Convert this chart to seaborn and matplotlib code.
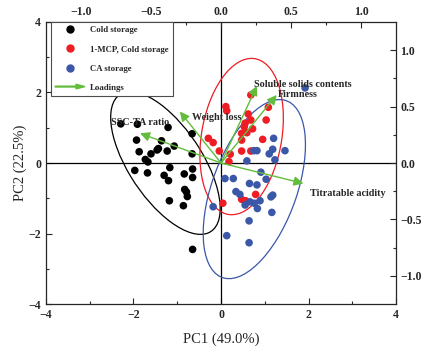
import numpy as np
import pandas as pd
import seaborn as sns
import matplotlib
matplotlib.use("Agg")
import matplotlib.pyplot as plt
from matplotlib.patches import Ellipse, FancyArrow
from matplotlib.lines import Line2D
from matplotlib.legend_handler import HandlerPatch

# grupos e cores
groups = ["Cold storage", "1-MCP, Cold storage", "CA storage"]
colors = ["black", "#ee1c24", "#3b57a8"]
green = "#62bd3c"

# scores (PC1, PC2)
cold_pc1 = [-2.29, -1.91, -1.21, -0.66, -1.93, -1.36, -1.07, -1.87, -1.60, -1.46,
            -1.43, -1.23, -0.66, -1.73, -1.67, -1.97, -1.68, -1.17, -0.65, -1.30,
            -1.20, -0.84, -0.65, -0.83, -0.79, -0.77, -1.18, -0.86, -0.65]
cold_pc2 = [1.11, 1.10, 1.01, 0.83, 0.65, 0.63, 0.48, 0.32, 0.26, 0.37,
            0.41, 0.34, 0.26, 0.10, 0.03, -0.21, -0.28, -0.13, -0.17, -0.35,
            -0.50, -0.31, -0.41, -0.75, -0.82, -0.95, -1.07, -1.21, -2.45]

mcp_pc1 = [0.68, 1.08, 0.11, 0.13, 0.62, 0.55, 0.68, 1.03, 0.53, 0.59,
           0.72, 0.47, 0.95, -0.29, -0.18, 0.47, -0.04, 0.21, 0.47, 0.68,
           0.18, 0.79, 0.47, 0.56, 0.04]
mcp_pc2 = [1.93, 1.58, 1.60, 1.48, 1.39, 1.13, 1.22, 1.22, 1.03, 0.86,
           0.97, 0.84, 0.67, 0.70, 0.58, 0.65, 0.34, 0.25, 0.34, 0.34,
           0.04, -0.89, -1.03, -1.07, -1.14]

ca_pc1 = [1.92, 1.20, 1.46, 1.18, 1.10, 1.23, 0.75, 0.82, 0.59, 0.09,
          0.28, 0.91, 0.65, 0.82, 0.34, 0.43, 0.55, 0.66, 0.89, 1.14,
          1.18, 0.83, 1.16, 0.64, -0.18, 0.13, 0.64, 0.76, 1.03]
ca_pc2 = [2.13, 0.70, 0.35, 0.39, 0.26, 0.09, 0.35, 0.35, 0.06, -0.44,
          -0.44, -0.26, -0.58, -0.62, -0.81, -0.89, -1.19, -1.10, -1.07, -0.96,
          -0.91, -1.29, -1.40, -1.64, -1.24, -2.06, -2.26, -1.14, -0.46]

# elipses de confianca: centro, largura, altura, angulo
ell_cx = [-1.27, 0.47, 0.76]
ell_cy = [0.0, 0.75, -0.74]
ell_w = [4.42, 4.46, 5.23]
ell_h = [1.76, 1.84, 1.97]
ell_ang = [-64, 83, 75]

# loadings (eixos de cima e da direita)
load_names = ["Soluble solids contents", "Firmness", "Weight loss",
              "SSC-TA ratio", "Titratable acidity"]
load_x = [0.256, 0.397, -0.294, -0.578, 0.588]
load_y = [0.684, 0.603, 0.456, 0.263, -0.181]

df = pd.DataFrame({
    "PC1": cold_pc1 + mcp_pc1 + ca_pc1,
    "PC2": cold_pc2 + mcp_pc2 + ca_pc2,
    "group": [groups[0]] * len(cold_pc1) + [groups[1]] * len(mcp_pc1) + [groups[2]] * len(ca_pc1),
})

sns.set_style("ticks")
plt.rcParams["font.family"] = ["Liberation Serif", "DejaVu Serif"]
plt.rcParams["xtick.direction"] = "in"
plt.rcParams["ytick.direction"] = "in"

fig = plt.figure(figsize=(4.33, 3.54), dpi=100)
ax = fig.add_axes([0.106, 0.141, 0.809, 0.797])

sns.scatterplot(data=df, x="PC1", y="PC2", hue="group", hue_order=groups,
                palette=colors, s=30, edgecolor="none", legend=False, ax=ax, zorder=3)

for i in range(3):
    ax.add_patch(Ellipse((ell_cx[i], ell_cy[i]), ell_w[i], ell_h[i], angle=ell_ang[i],
                         fill=False, edgecolor=colors[i], lw=0.9, zorder=2))

ax.axhline(0, color="black", lw=0.9, zorder=1)
ax.axvline(0, color="black", lw=0.9, zorder=1)
ax.set_xlim(-4, 4)
ax.set_ylim(-4, 4)
ax.set_xticks([-4, -2, 0, 2, 4])
ax.set_yticks([-4, -2, 0, 2, 4])
ax.set_xticks([-3, -1, 1, 3], minor=True)
ax.set_yticks([-3, -1, 1, 3], minor=True)
ax.tick_params(which="major", length=4, width=0.8, labelsize=8.5)
ax.tick_params(which="minor", length=2.5, width=0.8)
for lab in ax.get_xticklabels() + ax.get_yticklabels():
    lab.set_fontweight("bold")
ax.set_xlabel("PC1 (49.0%)", fontsize=10.5, labelpad=8)
ax.set_ylabel("PC2 (22.5%)", fontsize=10.5, labelpad=1)
for sp in ax.spines.values():
    sp.set_linewidth(0.9)

# eixo dos loadings por cima
ax2 = fig.add_axes(ax.get_position(), frameon=False)
ax2.set_xlim(-1.25, 1.25)
ax2.set_ylim(-1.25, 1.25)
ax2.xaxis.tick_top()
ax2.yaxis.tick_right()
ax2.set_xticks([-1.0, -0.5, 0.0, 0.5, 1.0])
ax2.set_yticks([-1.0, -0.5, 0.0, 0.5, 1.0])
ax2.set_xticks([-0.75, -0.25, 0.25, 0.75], minor=True)
ax2.set_yticks([-0.75, -0.25, 0.25, 0.75], minor=True)
ax2.tick_params(which="major", length=4, width=0.8, labelsize=8.5, pad=3)
ax2.tick_params(which="minor", length=2.5, width=0.8)
for lab in ax2.get_xticklabels() + ax2.get_yticklabels():
    lab.set_fontweight("bold")

offsets = [(-2, 1), (1, 0), (9, -4), (0, 8), (5, -7)]
aligns = ["left", "left", "left", "center", "left"]
for name, lx, ly, off, ha in zip(load_names, load_x, load_y, offsets, aligns):
    ax2.annotate("", xy=(lx, ly), xytext=(0, 0),
                 arrowprops=dict(arrowstyle="-|>", color=green, lw=1.0,
                                 mutation_scale=14, shrinkA=0, shrinkB=0))
    ax2.annotate(name, xy=(lx, ly), xytext=off, textcoords="offset points",
                 ha=ha, va="center", fontsize=7.3, fontweight="bold")


def make_arrow(legend, orig_handle, xdescent, ydescent, width, height, fontsize):
    return FancyArrow(-xdescent, height / 2 - ydescent, width, 0, width=0.6,
                      length_includes_head=True, head_width=height * 0.75,
                      head_length=width * 0.3, color=green)


handles = [Line2D([], [], marker="o", ls="", color=c, markersize=5) for c in colors]
handles.append(FancyArrow(0, 0, 1, 0, color=green))
leg = ax2.legend(handles, groups + ["Loadings"], loc="upper left",
                 bbox_to_anchor=(0.014, 1.0), borderaxespad=0, fancybox=False,
                 framealpha=1, edgecolor="0.3", handlelength=3.4, handletextpad=0.6,
                 labelspacing=1.25, borderpad=0.5,
                 prop={"size": 6.3, "weight": "bold"},
                 handler_map={FancyArrow: HandlerPatch(patch_func=make_arrow)})
leg.get_frame().set_linewidth(0.8)

fig.savefig("out.png", dpi=100)
